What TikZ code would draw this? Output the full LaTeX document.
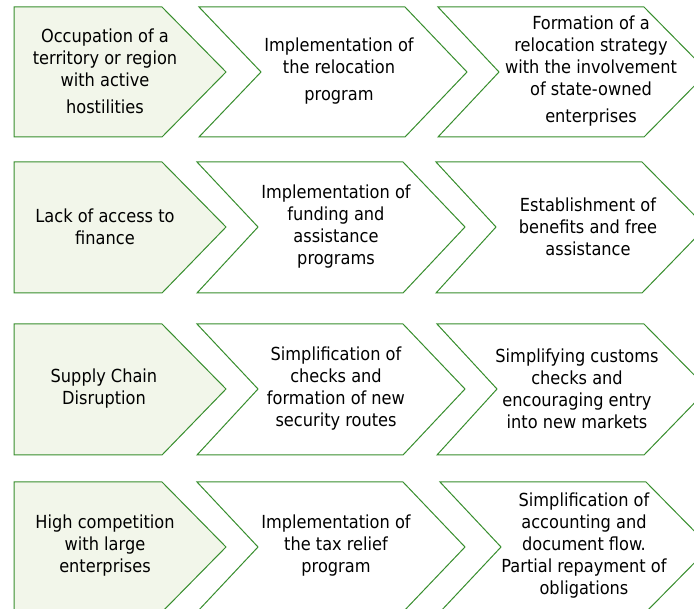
\documentclass[tikz,border=0pt]{standalone}
\usepackage{fontspec}
\setmainfont{DejaVu Sans Condensed}
\definecolor{chevgreen}{RGB}{56,142,46}
\definecolor{chevfill}{RGB}{242,246,234}
\tikzset{
  first/.style={draw=chevgreen,fill=chevfill,line width=0.75pt,line join=miter},
  chev/.style={draw=chevgreen,fill=white,line width=0.75pt,line join=miter},
  txt/.style={align=center,inner sep=0pt,font=\fontsize{13.5}{16.5}\selectfont}
}
\begin{document}
\begin{tikzpicture}[x=0.75pt,y=-0.75pt]
  \useasboundingbox (0,0) rectangle (694,609);
  \clip (0,0) rectangle (694,609);
  % row 1
  \draw [first] (14,7)--(162,7)--(226,72)--(162,137)--(14,137)--cycle;
  \draw [chev] (199,7)--(405,7)--(467,72)--(405,137)--(199,137)--(261,72)--cycle;
  \draw [chev] (438,7)--(644,7)--(708,72)--(644,137)--(438,137)--(499,72)--cycle;
  \node [txt] (occupation) at (105,71) {Occupation of a\\territory or region\\with active\\[3.75pt]hostilities};
  \node [txt] (relocprog) at (339,71) {Implementation of\\the relocation\\[3.75pt]program};
  \node [txt] (relocstrat) at (591,71) {Formation of a\\relocation strategy\\with the involvement\\of state-owned\\[3.75pt]enterprises};
  % row 2
  \draw [first] (14,162)--(162,162)--(226,227)--(162,293)--(14,293)--cycle;
  \draw [chev] (197,162)--(403,162)--(465,227)--(403,293)--(197,293)--(258,227)--cycle;
  \draw [chev] (436,162)--(642,162)--(706,227)--(642,293)--(436,293)--(496,227)--cycle;
  \node [txt] (finance) at (105,227) {Lack of access to\\finance};
  \node [txt] (funding) at (336,227) {Implementation of\\funding and\\assistance\\programs};
  \node [txt] (benefits) at (588,227) {Establishment of\\benefits and free\\assistance};
  % row 3
  \draw [first] (14,324)--(162,324)--(226,389)--(162,455)--(14,455)--cycle;
  \draw [chev] (197,324)--(403,324)--(465,389)--(403,455)--(197,455)--(258,389)--cycle;
  \draw [chev] (437,324)--(644,324)--(708,389)--(644,455)--(437,455)--(497,389)--cycle;
  \node [txt] (supply) at (104,389) {Supply Chain\\Disruption};
  \node [txt] (routes) at (336,389) {Simplification of\\checks and\\formation of new\\security routes};
  \node [txt] (customs) at (577,389) {Simplifying customs\\checks and\\encouraging entry\\into new markets};
  % row 4
  \draw [first] (14,482)--(162,482)--(226,547)--(162,612)--(14,612)--cycle;
  \draw [chev] (197,482)--(403,482)--(465,547)--(403,612)--(197,612)--(258,547)--cycle;
  \draw [chev] (440,482)--(646,482)--(710,547)--(646,612)--(440,612)--(501,547)--cycle;
  \node [txt] (competition) at (105,546) {High competition\\with large\\enterprises};
  \node [txt] (taxrelief) at (336,546) {Implementation of\\the tax relief\\program};
  \node [txt] (accounting) at (584,546) {Simplification of\\accounting and\\document flow.\\Partial repayment of\\obligations};
\end{tikzpicture}
\end{document}
